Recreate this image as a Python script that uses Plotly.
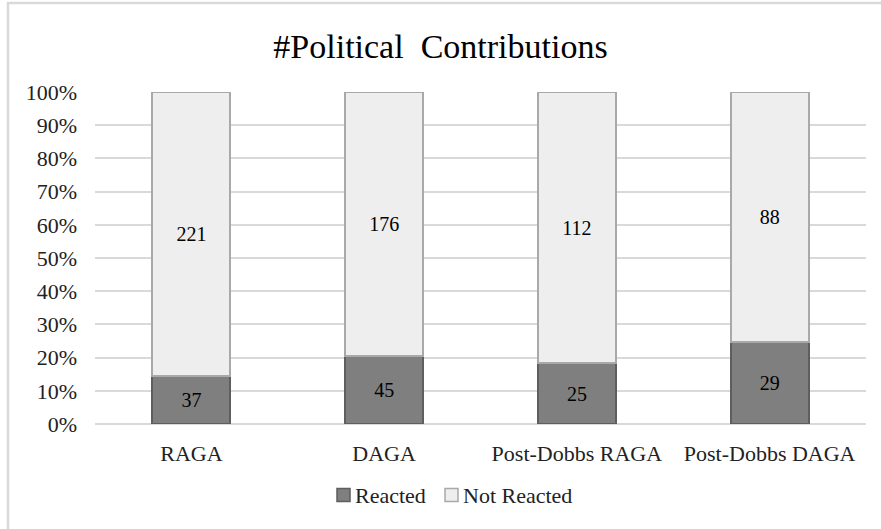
import plotly.graph_objects as go

categories = ["RAGA", "DAGA", "Post-Dobbs RAGA", "Post-Dobbs DAGA"]
reacted = [37, 45, 25, 29]
not_reacted = [221, 176, 112, 88]
series_names = ["Reacted", "Not Reacted"]
y_ticks = list(range(0, 101, 10))
y_tick_labels = [f"{v}%" for v in y_ticks]

FONT = "Liberation Serif"
W, H = 881, 529
L, R, T, B = 95, 15, 92, 105
pw = W - L - R
ph = H - T - B

fills = ["#7f7f7f", "#eeeeee"]
edges = ["#5e5e5e", "#a9a9a9"]

fig = go.Figure()
for name, vals, fc, ec in zip(series_names, [reacted, not_reacted], fills, edges):
    fig.add_trace(go.Bar(
        name=name, x=categories, y=vals,
        marker=dict(color=fc, line=dict(color=ec, width=2)),
        text=vals, textposition="inside", insidetextanchor="middle",
        textfont=dict(family=FONT, size=20, color="black"),
        showlegend=False,
    ))

def px_x(p):
    return (p - L) / pw

def px_y(p):
    return (H - B - p) / ph

# chart frame
fig.add_shape(type="rect", xref="paper", yref="paper",
              x0=px_x(8), x1=1.2, y0=-0.6, y1=px_y(3),
              line=dict(color="#d9d9d9", width=2.5), fillcolor="rgba(0,0,0,0)",
              layer="below")

# custom legend (square + label, Excel style)
leg_y = 495
leg_items = [(337, 353), (445, 461)]
for (sx, tx), name, fc, ec in zip(leg_items, series_names, fills, edges):
    fig.add_shape(type="rect", xref="paper", yref="paper",
                  x0=px_x(sx), x1=px_x(sx + 13), y0=px_y(leg_y + 6.5), y1=px_y(leg_y - 6.5),
                  line=dict(color=ec, width=1.5), fillcolor=fc)
    fig.add_annotation(xref="paper", yref="paper", x=px_x(tx), y=px_y(leg_y),
                       xanchor="left", yanchor="middle", showarrow=False, text=name,
                       font=dict(family=FONT, size=22, color="#222"))

fig.update_layout(
    width=W, height=H,
    margin=dict(l=L, r=R, t=T, b=B),
    barmode="stack", barnorm="percent", bargap=0.595,
    paper_bgcolor="white", plot_bgcolor="white",
    font=dict(family=FONT, size=21, color="black"),
    title=dict(text="#Political&nbsp;&nbsp;Contributions", x=0.5, xref="container",
               xanchor="center",
               y=1 - 46 / H, yanchor="middle", yref="container",
               font=dict(family=FONT, size=34, color="black")),
    showlegend=False,
    uniformtext=dict(mode=False),
)
fig.update_xaxes(showgrid=False, showline=False, ticks="", ticklabelstandoff=14,
                 tickfont=dict(family=FONT, size=22, color="#222"))
fig.update_yaxes(range=[0, 100], tickvals=y_ticks, ticktext=y_tick_labels,
                 showgrid=True, gridcolor="#d9d9d9", gridwidth=2,
                 zeroline=True, zerolinecolor="#d9d9d9", zerolinewidth=2,
                 showline=False, ticks="", ticklabelstandoff=17,
                 tickfont=dict(family=FONT, size=22, color="#222"))

fig.write_html("out.html")
